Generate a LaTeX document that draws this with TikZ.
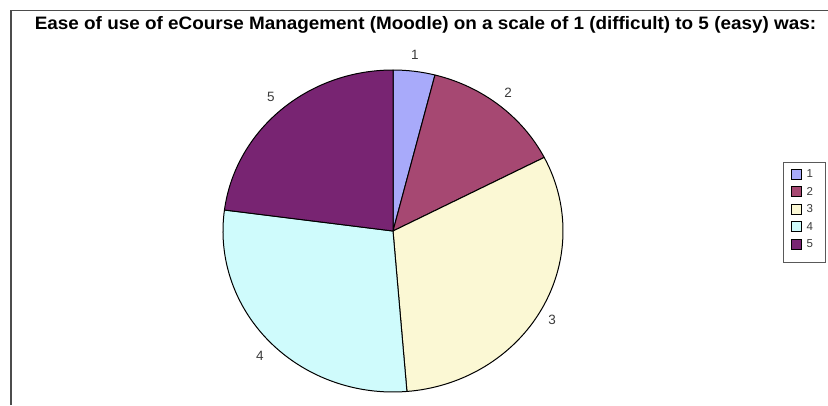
\documentclass[tikz,border=0pt]{standalone}
\usepackage{fontspec}
\setmainfont{Liberation Sans}
\usepackage{graphicx}

\definecolor{sliceA}{HTML}{A8AAFA}
\definecolor{sliceB}{HTML}{A64872}
\definecolor{sliceC}{HTML}{FBF8D4}
\definecolor{sliceD}{HTML}{CFFBFC}
\definecolor{sliceE}{HTML}{782472}
\definecolor{labelgray}{HTML}{3A3A3A}

\tikzset{
  slice/.style={draw=black, line width=1pt, line join=round},
  pielabel/.style={text=labelgray, font=\fontsize{13.5}{13.5}\selectfont, inner sep=0pt},
  keybox/.style={draw=black, line width=0.9pt, minimum size=10pt, inner sep=0pt},
  keylabel/.style={text=labelgray, font=\fontsize{11.5}{11.5}\selectfont, inner sep=0pt, anchor=west}
}

\begin{document}
\begin{tikzpicture}[x=1pt, y=1pt]
  \useasboundingbox (0,0) rectangle (828,-405);

  % frame of the chart
  \draw[gray!60!black, line width=1.3pt] (11,-405) -- (11,-10.5) -- (828,-10.5);

  \node[anchor=base, font=\bfseries\fontsize{18}{18}\selectfont] (title) at (425.5,-29.5)
    {\scalebox{1.05}[1]{Ease of use of eCourse Management (Moodle) on a scale of 1 (difficult) to 5 (easy) was:}};

  % the pie
  \begin{scope}[shift={(393,-231)}, xscale=1.056]
  \draw[slice, fill=sliceA] (0,0) -- (90:161) arc[start angle=90, end angle=75.7, radius=161] -- cycle;
  \draw[slice, fill=sliceB] (0,0) -- (75.7:161) arc[start angle=75.7, end angle=27.2, radius=161] -- cycle;
  \draw[slice, fill=sliceC] (0,0) -- (27.2:161) arc[start angle=27.2, end angle=-85.3, radius=161] -- cycle;
  \draw[slice, fill=sliceD] (0,0) -- (-85.3:161) arc[start angle=-85.3, end angle=-187.5, radius=161] -- cycle;
  \draw[slice, fill=sliceE] (0,0) -- (172.5:161) arc[start angle=172.5, end angle=90, radius=161] -- cycle;
  \end{scope}

  \node[pielabel] (lab1) at (415,-55) {1};
  \node[pielabel] (lab2) at (508,-93) {2};
  \node[pielabel] (lab3) at (552,-320) {3};
  \node[pielabel] (lab4) at (260,-356) {4};
  \node[pielabel] (lab5) at (271,-97) {5};

  % legend
  \draw[gray!70!black, line width=0.9pt] (783,-162) rectangle (825,-262);
  \node[keybox, fill=sliceA] (key1) at (796,-174) {};
  \node[keybox, fill=sliceB] (key2) at (796,-191.5) {};
  \node[keybox, fill=sliceC] (key3) at (796,-209) {};
  \node[keybox, fill=sliceD] (key4) at (796,-226.5) {};
  \node[keybox, fill=sliceE] (key5) at (796,-244) {};
  \node[keylabel] (keylab1) at (806.5,-174) {1};
  \node[keylabel] (keylab2) at (806.5,-191.5) {2};
  \node[keylabel] (keylab3) at (806.5,-209) {3};
  \node[keylabel] (keylab4) at (806.5,-226.5) {4};
  \node[keylabel] (keylab5) at (806.5,-244) {5};

\end{tikzpicture}
\end{document}
